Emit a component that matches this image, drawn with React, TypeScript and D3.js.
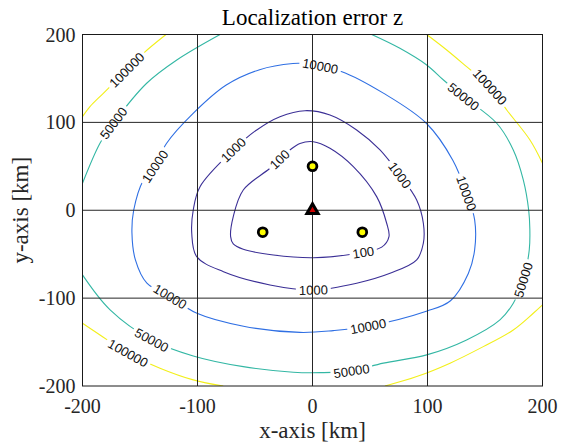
import React, { useEffect, useRef } from "react";
import * as d3 from "d3";

// contour levels and their line colours
const levels = [100, 1000, 10000, 50000, 100000];
const levelColors = ["#3b2f96", "#3b2f96", "#2f6fe3", "#33b7a4", "#f2ef1a"];

// contour lines, [x km, y km]
const contour100 = [
  [0.7, 78], [15.2, 70.5], [35.5, 49.6], [55.8, 15.5], [64.5, -14.8], [66.5, -30],
  [60.2, -42], [35.5, -49.7], [0.7, -54], [-34, -50.9], [-60.2, -44.4], [-68.9, -38.3],
  [-71.2, -30], [-68.9, -7.3], [-60.2, 23.1], [-37, 47.8], [-19.6, 68.6], [-10.9, 76],
];
const contour1000 = [
  [-6.5, 113.3], [15.2, 108.4], [38.4, 91.4], [58.7, 68.6], [76, 40], [90.6, 11.7],
  [96.4, -14.8], [96.4, -37.5], [90.6, -56.5], [67.4, -71.7], [38.4, -83], [0.7, -90.7],
  [-37, -85], [-77.4, -69.9], [-100.7, -52.8], [-105, -26.2], [-103.7, 0.3], [-97.8, 26.8],
  [-68.9, 68.6], [-48.5, 91.4], [-28.3, 106.5],
];
const contour10000 = [
  [-8, 167], [25, 158], [62, 133], [99, 99], [122, 57], [134, 19], [141, -11], [141, -45],
  [135.5, -72], [120, -103], [99, -115], [48.5, -132], [18, -137], [-11, -139], [-60, -132],
  [-101, -117], [-124, -98], [-144, -83], [-154, -56.5], [-157, -26], [-155.5, 0],
  [-147, 34.5], [-137, 50], [-127, 76], [-104, 110], [-75, 142.5], [-46, 160], [-17, 167],
];
const contour50000a = [
  [-200, 30.7], [-184.8, 76.2], [-173.2, 99], [-144.2, 144.5], [-118, 171], [-80.4, 200],
];
const contour50000b = [
  [51.5, 200], [76, 184.3], [99.3, 165.3], [113.9, 148.2], [131.3, 129.2], [160.2, 99],
  [174.6, 68.6], [183.3, 34.5], [188, 0], [189, -22], [188.5, -45], [183.3, -79.3],
  [174.6, -105.8], [163, -124.8], [134, -147.6], [99.3, -164.6], [61.6, -174], [34, -182.8],
  [6.5, -184.8], [-16.7, -184.3], [-60.2, -178], [-103.7, -165.8], [-139.8, -147.6],
  [-176, -113.4], [-200, -73.6],
];
const contour100000a = [
  [-200, 106.5], [-193.5, 117.9], [-181.9, 133.1], [-161.6, 159.6], [-147.1, 178.6], [-127.4, 200],
];
const contour100000b = [
  [-200, -128.6], [-184.8, -141.9], [-160.2, -162.7], [-132.6, -179.7], [-103.7, -193], [-77.6, -200],
];
const contour100000c = [
  [63, -200], [90.6, -189.3], [119.6, -174], [148.5, -155.2], [174.6, -136.2], [192, -117.2], [200, -107.7],
];
const contour100000d = [
  [200, 53.5], [189.1, 80], [168.9, 114.1], [154.3, 140.6], [134, 163.4], [116.7, 182.4], [99.3, 200],
];

// where the level labels sit, [level, x km, y km]
const contourLabels = [
  [100, -30, 59.5], [100, 44.2, -49],
  [1000, -68.9, 68.6], [1000, 76, 40], [1000, 0.7, -90.7],
  [10000, 6.5, 161.5], [10000, 134, 19.3], [10000, -137, 49.6], [10000, -123.9, -98.3], [10000, 48.5, -132.4],
  [50000, -173.2, 99], [50000, 131.3, 129.2], [50000, -139.8, -147.6], [50000, 34, -182.8], [50000, 183.3, -79.3],
  [100000, -161.6, 159.6], [100000, 154.3, 140.6], [100000, -160.2, -162.7],
];

// sensors and reference point
const sensorX = [0, -43.3, 43.3];
const sensorY = [50, -25, -25];
const refX = [0];
const refY = [0];

const ticks = [-200, -100, 0, 100, 200];

const App = () => {
  const ref = useRef<SVGSVGElement>(null);

  useEffect(() => {
    const width = 565;
    const height = 445;
    const margin = { left: 82.5, right: 22.5, top: 34.5, bottom: 59 };

    const svg = d3.select(ref.current);
    svg.selectAll("*").remove();

    const x = d3.scaleLinear().domain([-200, 200]).range([margin.left, width - margin.right]);
    const y = d3.scaleLinear().domain([-200, 200]).range([height - margin.bottom, margin.top]);

    const serif = "Liberation Serif";
    const sans = "Liberation Sans";

    svg.append("rect").attr("width", width).attr("height", height).attr("fill", "white");

    const defs = svg.append("defs");
    defs
      .append("clipPath")
      .attr("id", "plot-clip")
      .append("rect")
      .attr("x", x(-200))
      .attr("y", y(200))
      .attr("width", x(200) - x(-200))
      .attr("height", y(-200) - y(200));
    const mask = defs
      .append("mask")
      .attr("id", "label-gaps")
      .attr("maskUnits", "userSpaceOnUse")
      .attr("x", 0)
      .attr("y", 0)
      .attr("width", width)
      .attr("height", height);
    mask.append("rect").attr("width", width).attr("height", height).attr("fill", "white");

    const pieces: { level: number; pts: number[][]; closed: boolean }[] = [
      { level: 100, pts: contour100, closed: true },
      { level: 1000, pts: contour1000, closed: true },
      { level: 10000, pts: contour10000, closed: true },
      { level: 50000, pts: contour50000a, closed: false },
      { level: 50000, pts: contour50000b, closed: false },
      { level: 100000, pts: contour100000a, closed: false },
      { level: 100000, pts: contour100000b, closed: false },
      { level: 100000, pts: contour100000c, closed: false },
      { level: 100000, pts: contour100000d, closed: false },
    ];

    const color = d3.scaleOrdinal<number, string>().domain(levels).range(levelColors);

    const lineOpen = d3
      .line<number[]>()
      .x((d) => x(d[0]))
      .y((d) => y(d[1]))
      .curve(d3.curveCatmullRom.alpha(0.5));
    const lineClosed = d3
      .line<number[]>()
      .x((d) => x(d[0]))
      .y((d) => y(d[1]))
      .curve(d3.curveCatmullRomClosed.alpha(0.5));

    const contourG = svg
      .append("g")
      .attr("clip-path", "url(#plot-clip)")
      .append("g")
      .attr("mask", "url(#label-gaps)");

    const paths = pieces.map((p) => {
      const node = contourG
        .append("path")
        .attr("d", (p.closed ? lineClosed : lineOpen)(p.pts))
        .attr("fill", "none")
        .attr("stroke", color(p.level))
        .attr("stroke-width", 1.1)
        .node() as SVGPathElement;
      return { level: p.level, node };
    });

    // grid
    const grid = svg.append("g").attr("stroke", "#262626").attr("stroke-width", 1);
    ticks.slice(1, -1).forEach((t) => {
      grid.append("line").attr("x1", x(t)).attr("x2", x(t)).attr("y1", y(-200)).attr("y2", y(200));
      grid.append("line").attr("y1", y(t)).attr("y2", y(t)).attr("x1", x(-200)).attr("x2", x(200));
    });

    // contour labels following the line
    const labelG = svg.append("g");
    contourLabels.forEach(([level, lx, ly]) => {
      const px = x(lx);
      const py = y(ly);
      let best = { d: Infinity, s: 0, node: null as SVGPathElement | null };
      paths
        .filter((p) => p.level === level)
        .forEach((p) => {
          const len = p.node.getTotalLength();
          for (let s = 0; s <= len; s += 0.5) {
            const pt = p.node.getPointAtLength(s);
            const dd = (pt.x - px) ** 2 + (pt.y - py) ** 2;
            if (dd < best.d) best = { d: dd, s, node: p.node };
          }
        });
      if (!best.node) return;
      const len = best.node.getTotalLength();
      const c = best.node.getPointAtLength(best.s);
      const a = best.node.getPointAtLength(Math.max(0, best.s - 4));
      const b = best.node.getPointAtLength(Math.min(len, best.s + 4));
      let ang = (Math.atan2(b.y - a.y, b.x - a.x) * 180) / Math.PI;
      if (ang > 90) ang -= 180;
      if (ang < -90) ang += 180;
      const text = labelG
        .append("text")
        .attr("transform", `translate(${c.x},${c.y}) rotate(${ang})`)
        .attr("text-anchor", "middle")
        .attr("dy", "0.36em")
        .attr("font-family", sans)
        .attr("font-size", 13)
        .attr("fill", "#111")
        .text(String(level));
      const w = (text.node() as SVGTextElement).getComputedTextLength() + 6;
      mask
        .append("rect")
        .attr("transform", `translate(${c.x},${c.y}) rotate(${ang})`)
        .attr("x", -w / 2)
        .attr("y", -6)
        .attr("width", w)
        .attr("height", 12)
        .attr("fill", "black");
    });

    // box
    svg
      .append("rect")
      .attr("x", x(-200))
      .attr("y", y(200))
      .attr("width", x(200) - x(-200))
      .attr("height", y(-200) - y(200))
      .attr("fill", "none")
      .attr("stroke", "#1a1a1a")
      .attr("stroke-width", 1);

    // sensors
    svg
      .append("g")
      .selectAll("circle")
      .data(sensorX.map((v, i) => [v, sensorY[i]]))
      .join("circle")
      .attr("cx", (d) => x(d[0]))
      .attr("cy", (d) => y(d[1]))
      .attr("r", 4.4)
      .attr("fill", "#ffff00")
      .attr("stroke", "black")
      .attr("stroke-width", 2.8);

    // reference point
    svg
      .append("g")
      .selectAll("path")
      .data(refX.map((v, i) => [v, refY[i]]))
      .join("path")
      .attr("transform", (d) => `translate(${x(d[0])},${y(d[1])})`)
      .attr("d", d3.symbol(d3.symbolTriangle, 55)())
      .attr("fill", "#d00000")
      .attr("stroke", "black")
      .attr("stroke-width", 3)
      .attr("stroke-linejoin", "miter");

    // tick labels
    const tickG = svg
      .append("g")
      .attr("font-family", serif)
      .attr("font-size", 20)
      .attr("fill", "#262626");
    ticks.forEach((t) => {
      tickG
        .append("text")
        .attr("x", x(t))
        .attr("y", y(-200) + 27)
        .attr("text-anchor", "middle")
        .text(t);
      tickG
        .append("text")
        .attr("x", x(-200) - 7)
        .attr("y", y(t))
        .attr("dy", "0.35em")
        .attr("text-anchor", "end")
        .text(t);
    });

    svg
      .append("text")
      .attr("x", (x(-200) + x(200)) / 2)
      .attr("y", 25)
      .attr("text-anchor", "middle")
      .attr("font-family", serif)
      .attr("font-size", 23)
      .attr("fill", "black")
      .text("Localization error z");

    svg
      .append("text")
      .attr("x", (x(-200) + x(200)) / 2)
      .attr("y", 438)
      .attr("text-anchor", "middle")
      .attr("font-family", serif)
      .attr("font-size", 23)
      .attr("fill", "#262626")
      .text("x-axis [km]");

    svg
      .append("text")
      .attr("transform", `translate(28,${(y(-200) + y(200)) / 2}) rotate(-90)`)
      .attr("text-anchor", "middle")
      .attr("font-family", serif)
      .attr("font-size", 23)
      .attr("fill", "#262626")
      .text("y-axis [km]");
  }, []);

  return (
    <svg
      ref={ref}
      width={565}
      height={445}
      style={{ position: "absolute", left: 0, top: 0, display: "block" }}
    />
  );
};

export default App;
